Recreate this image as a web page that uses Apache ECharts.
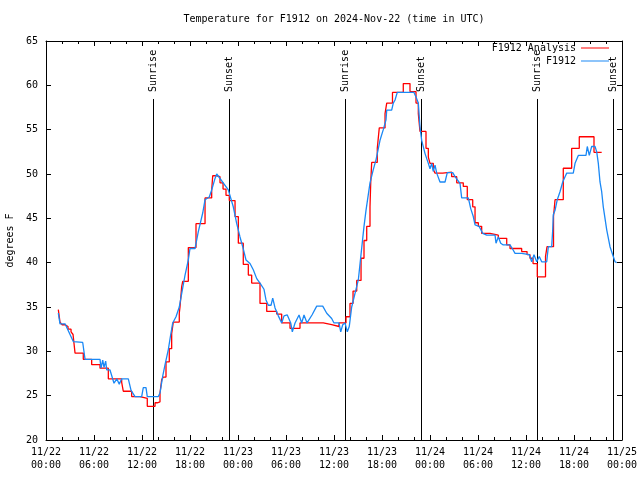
<!DOCTYPE html>
<html>
<head>
<meta charset="utf-8">
<script src="https://cdn.jsdelivr.net/npm/echarts@6/dist/echarts.min.js"></script>
<style>html,body{margin:0;padding:0;background:#fff}#c{width:640px;height:480px}</style>
</head>
<body>
<div id="c"></div>
<script>
// hours since 2024-11-22 00:00 UTC
var xTickLabels = ['11/22\n00:00','11/22\n06:00','11/22\n12:00','11/22\n18:00','11/23\n00:00','11/23\n06:00','11/23\n12:00','11/23\n18:00','11/24\n00:00','11/24\n06:00','11/24\n12:00','11/24\n18:00','11/25\n00:00'];

var redHours = [
 1.54,1.75,2.0,2.38,2.75,3.13,3.38,3.63,4.66,5.71,
 6.75,7.79,9.46,9.66,10.71,11.75,12.66,13.63,13.91,14.25,
 14.46,14.66,15.0,15.41,15.71,15.91,16.66,16.75,16.96,17.09,
 17.79,18.75,19.88,20.71,20.84,21.34,21.75,22.13,22.5,22.91,
 23.63,24.04,24.66,25.29,25.71,26.75,27.59,28.84,29.46,30.5,
 31.75,34.66,35.71,36.63,37.5,38.0,38.38,38.84,39.38,39.75,
 40.09,40.5,40.59,40.71,41.41,41.66,42.38,42.59,43.31,44.66,
 45.5,46.25,46.54,46.75,47.5,47.79,48.0,48.41,48.63,49.59,
 50.71,51.34,52.16,52.66,53.34,53.63,54.04,54.46,55.5,56.54,
 57.59,58.0,59.46,60.13,60.5,60.88,61.41,62.44,62.63,63.44,
 63.63,64.66,65.71,66.66,68.5,69.46];
var redTemps = [
 34.7,33.3,33.0,32.8,32.5,32.2,31.9,29.8,29.1,28.5,
 28.1,26.9,26.5,25.5,24.9,24.7,23.8,24.2,24.3,25.3,
 26.8,27.1,28.8,30.3,32.0,33.3,34.3,35.0,37.3,37.9,
 41.7,44.4,47.3,48.2,49.8,49.7,49.0,48.3,47.6,47.0,
 45.2,42.2,39.8,38.6,37.7,35.4,34.5,34.2,33.2,32.6,
 33.2,33.0,32.8,33.2,33.9,35.4,36.8,38.0,40.5,42.5,
 44.1,46.3,49.0,51.3,52.9,55.2,56.8,58.0,59.2,60.2,
 59.3,58.0,56.8,54.8,52.9,51.9,51.2,50.5,50.1,50.2,
 49.7,49.0,48.6,47.1,46.3,44.5,44.1,43.3,43.1,42.75,
 42.0,41.6,41.25,40.9,40.5,39.9,38.4,40.7,41.8,45.2,
 47.1,50.65,52.9,54.2,52.45,52.45];

var blueHours = [
 1.54,1.75,2.38,3.41,4.59,4.88,6.75,6.88,7.09,7.25,
 7.46,7.59,8.0,8.5,8.84,9.04,9.16,9.46,10.29,10.63,
 11.13,11.96,12.16,12.5,12.66,14.04,14.25,14.59,14.88,15.29,
 15.59,15.84,16.25,16.66,16.96,17.38,17.79,18.0,18.63,19.04,
 19.59,19.88,20.41,20.71,21.13,21.34,22.79,22.91,23.41,23.84,
 24.25,24.59,25.0,25.5,25.91,26.34,26.75,27.25,27.5,27.79,
 28.13,28.34,28.63,29.04,29.46,29.75,30.16,30.59,30.79,31.13,
 31.63,31.96,32.25,32.63,32.88,33.25,33.84,34.59,35.09,35.71,
 36.0,36.63,36.84,37.09,37.38,37.66,37.91,38.21,39.04,39.75,
 40.0,40.5,40.91,41.25,41.75,42.16,42.5,42.59,43.21,43.41,
 43.63,43.91,46.0,46.25,46.54,46.75,46.96,47.38,47.79,48.0,
 48.21,48.41,48.63,48.84,49.25,49.88,50.16,50.84,51.13,51.75,
 51.96,52.79,53.09,53.41,53.63,54.13,54.59,55.09,56.13,56.25,
 56.54,56.84,57.16,58.0,58.41,58.63,59.46,60.41,60.71,61.0,
 61.34,61.66,61.96,62.59,62.79,63.21,63.34,63.41,63.63,63.91,
 64.25,64.59,64.88,65.09,65.91,66.13,66.54,67.5,67.66,67.91,
 68.21,68.63,68.84,69.04,69.25,69.46,69.66,70.09,70.5,70.91,
 71.13,71.34];
var blueTemps = [
 34.3,33.1,33.1,31.1,31.0,29.1,29.1,28.1,29.0,28.2,
 28.9,27.9,27.9,26.4,26.9,26.9,26.3,26.9,26.9,25.6,
 24.9,24.9,25.9,25.9,24.9,24.9,25.3,27.2,28.5,30.2,
 31.9,33.2,33.9,35.0,36.5,38.6,40.3,41.6,41.6,43.5,
 45.6,47.1,47.4,48.2,49.5,50.0,48.2,48.0,46.3,44.4,
 42.9,41.8,40.3,39.9,39.2,38.2,37.7,37.0,35.8,35.2,
 35.2,36.0,34.9,34.0,33.2,34.0,34.1,33.2,32.2,33.2,
 34.1,33.2,34.1,33.2,33.2,34.1,35.1,35.1,34.3,33.7,
 33.2,33.2,32.2,33.0,33.2,32.2,32.8,35.0,38.05,44.1,
 45.9,49.0,50.5,51.6,53.8,55.0,56.1,57.2,57.2,58.0,
 58.35,59.2,59.2,58.7,58.0,55.3,53.8,52.3,51.2,50.6,
 51.2,50.3,51.0,50.1,49.1,49.1,50.15,50.15,49.7,48.95,
 47.3,47.3,46.1,45.2,44.25,44.1,43.3,43.1,43.1,42.2,
 42.9,42.2,42.0,42.0,41.4,41.05,41.05,40.9,40.1,40.9,
 40.1,40.7,40.1,40.1,41.8,41.8,43.7,45.4,45.9,47.1,
 48.0,49.1,49.7,50.1,50.1,51.2,52.1,52.1,53.1,52.1,
 53.1,53.1,52.5,51.2,49.1,48.0,46.3,43.7,41.8,40.7,
 40.1,40.0];

var sunHours = [13.37, 22.87, 37.38, 46.87, 61.4, 70.9];
var sunLabels = ['Sunrise','Sunset','Sunrise','Sunset','Sunrise','Sunset'];

var FONT = '"DejaVu Sans Mono", "Liberation Mono", monospace';
var SUN_LINE_TOP = 58.46;   // temperature level where the marker line starts
var SUN_LABEL_BASE = 59.25; // temperature level where the rotated label starts

function zip(a, b) { return a.map(function (v, i) { return [v, b[i]]; }); }

var chart = echarts.init(document.getElementById('c'), null, {renderer: 'canvas'});

var tickCommon = {
  axisLine: {show: true, onZero: false, lineStyle: {color: '#000', width: 1}},
  axisTick: {show: true, inside: true, length: 5, lineStyle: {color: '#000', width: 1}},
  splitLine: {show: false}
};

var option = {
  animation: false,
  backgroundColor: '#fff',
  graphic: [{
    type: 'text', x: 334, y: 19,
    style: {text: 'Temperature for F1912 on 2024-Nov-22 (time in UTC)', font: '10px ' + FONT, fill: '#000', align: 'center', verticalAlign: 'middle'}
  }],
  grid: {left: 46, right: 18, top: 41, bottom: 40, containLabel: false, outerBoundsMode: 'none'},
  legend: [
    {data: ['F1912 Analysis'], right: 31, top: 43, align: 'right', icon: 'rect', itemWidth: 28, itemHeight: 1, padding: 0, selectedMode: false,
     textStyle: {fontFamily: FONT, fontSize: 10, color: '#000'}},
    {data: ['F1912'], right: 31, top: 56, align: 'right', icon: 'rect', itemWidth: 28, itemHeight: 1, padding: 0, selectedMode: false,
     textStyle: {fontFamily: FONT, fontSize: 10, color: '#000'}}
  ],
  xAxis: [
    Object.assign({}, tickCommon, {
      type: 'value', position: 'bottom', min: 0, max: 72, interval: 6,
      minorTick: {show: true, splitNumber: 3, length: 3, lineStyle: {color: '#000'}},
      minorSplitLine: {show: false},
      axisLabel: {color: '#000', fontFamily: FONT, fontSize: 10, lineHeight: 13, margin: 6,
        formatter: function (v) { return xTickLabels[Math.round(v / 6)]; }}
    }),
    Object.assign({}, tickCommon, {
      type: 'value', position: 'top', min: 0, max: 72, interval: 6,
      minorTick: {show: true, splitNumber: 3, length: 3, lineStyle: {color: '#000'}},
      minorSplitLine: {show: false},
      axisLabel: {show: false}
    })
  ],
  yAxis: [
    Object.assign({}, tickCommon, {
      type: 'value', position: 'left', min: 20, max: 65, interval: 5,
      name: 'degrees F', nameLocation: 'middle', nameGap: 31, nameRotate: 90,
      nameTextStyle: {fontFamily: FONT, fontSize: 10, color: '#000'},
      axisLabel: {color: '#000', fontFamily: FONT, fontSize: 10, margin: 8}
    }),
    Object.assign({}, tickCommon, {
      type: 'value', position: 'right', min: 20, max: 65, interval: 5,
      axisLabel: {show: false}
    })
  ],
  series: [
    {name: 'F1912 Analysis', type: 'line', xAxisIndex: 0, yAxisIndex: 0, data: zip(redHours, redTemps),
     step: 'end', symbol: 'none', showSymbol: false,
     lineStyle: {color: '#ff0000', width: 1.3}, itemStyle: {color: '#ff0000'}},
    {name: 'F1912', type: 'line', xAxisIndex: 0, yAxisIndex: 0, data: zip(blueHours, blueTemps),
     symbol: 'none', showSymbol: false,
     lineStyle: {color: '#1a88f5', width: 1.3}, itemStyle: {color: '#1a88f5'}},
    {name: 'sun', type: 'custom', xAxisIndex: 0, yAxisIndex: 0, clip: false,
     data: sunHours.map(function (h) { return [h, 20]; }),
     encode: {x: 0, y: 1},
     renderItem: function (params, api) {
       var t = api.value(0);
       var b = api.coord([t, 20]);
       var tp = api.coord([t, SUN_LINE_TOP]);
       var lb = api.coord([t, SUN_LABEL_BASE]);
       var x = Math.round(b[0]) + 0.5;
       return {type: 'group', children: [
         {type: 'line', shape: {x1: x, y1: b[1], x2: x, y2: tp[1]}, style: {stroke: '#000', lineWidth: 1}},
         {type: 'text', x: x, y: lb[1], rotation: Math.PI / 2,
          style: {text: sunLabels[params.dataIndex], font: '10px ' + FONT, fill: '#000', align: 'left', verticalAlign: 'middle'}}
       ]};
     }}
  ]
};
chart.setOption(option);
</script>
</body>
</html>
